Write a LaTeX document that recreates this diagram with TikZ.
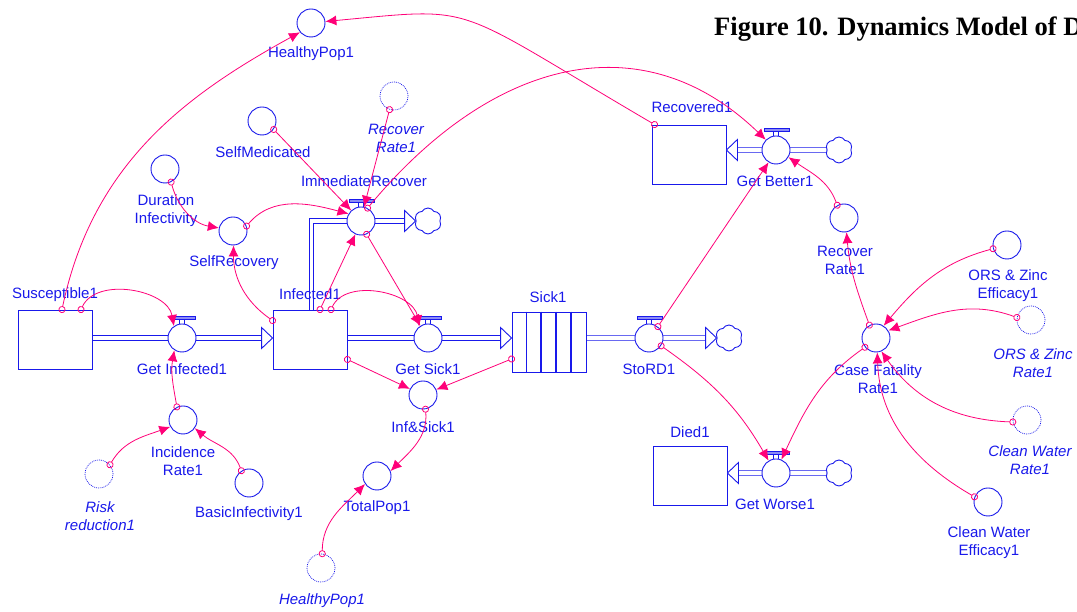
\documentclass[tikz,border=0pt]{standalone}
\usepackage{fontspec}
\setmainfont{Liberation Sans}
\newfontfamily\titlefont{Liberation Serif}
\usetikzlibrary{arrows.meta,shapes.symbols,calc}
\definecolor{sdblue}{RGB}{25,25,235}
\definecolor{sdpink}{RGB}{255,0,120}
\pgfdeclarelayer{bg}
\pgfsetlayers{bg,main}
\tikzset{
 stock/.style={draw=sdblue, line width=0.9pt, minimum width=74pt, minimum height=59pt, inner sep=0pt, fill=white},
 auxv/.style={draw=sdblue, circle, line width=0.9pt, minimum size=28pt, inner sep=0pt, fill=white},
 ghost/.style={auxv, densely dotted, line width=0.7pt},
 cloudn/.style={cloud, cloud puffs=6, cloud puff arc=120, aspect=1, draw=sdblue, line width=0.9pt, minimum width=27pt, minimum height=26pt, inner sep=0pt, fill=white},
 lbl/.style={text=sdblue, font=\fontsize{15}{18}\selectfont, align=center, inner sep=0pt},
 glbl/.style={lbl, font=\fontsize{15}{18}\selectfont\itshape},
 pipeline/.style={draw=sdblue, line width=0.9pt, double=white, double distance=3.6pt},
 pipehead/.style={draw=sdblue, line width=0.9pt, fill=white, line join=miter},
 conn/.style={draw=sdpink, line width=0.8pt, {Circle[open,length=7pt,width=7pt]}-{Latex[length=11pt,width=10pt]}, shorten <=-3.5pt},
}
\newcommand\valvebar[1]{%
 \draw[sdblue, line width=0.6pt] ([xshift=-2.5pt]#1.north) -- ([xshift=-2.5pt,yshift=4pt]#1.north)
   ([xshift=2.5pt]#1.north) -- ([xshift=2.5pt,yshift=4pt]#1.north);
 \draw[sdblue, fill=sdblue!50, line width=0.6pt] ([xshift=-12pt,yshift=4pt]#1.north) rectangle ([xshift=13pt,yshift=7pt]#1.north);}
\begin{document}
\begin{tikzpicture}[x=1pt,y=1pt]
\useasboundingbox (0,0) rectangle (1077,612);
\clip (0,0) rectangle (1077,612);
\begin{pgfonlayer}{bg}
\fill[white] (0,0) rectangle (1077,612);
\end{pgfonlayer}

% stocks
\node[stock] (Sus) at (55,272.5) {};
\node[stock] (Inf) at (310,272.5) {};
\node[stock, minimum height=60pt] (Sick) at (549,270) {};
\node[stock] (Rec) at (689,457.5) {};
\node[stock] (Died) at (690,136.5) {};
\foreach \k in {1,2,3,4}
  \draw[sdblue, line width=1.6pt] ([xshift=\k*14.8pt]Sick.north west) -- ([xshift=\k*14.8pt]Sick.south west);

% valves
\node[auxv] (GI) at (182,274) {};
\node[auxv] (GS) at (428,274) {};
\node[auxv] (SRD) at (649,274) {};
\node[auxv] (IR) at (361,391) {};
\node[auxv] (GB) at (776,462) {};
\node[auxv] (GW) at (776,139) {};
\foreach \v in {GI,GS,SRD,IR,GB,GW} {\valvebar{\v}}

% clouds
\node[cloudn] (cIR) at (428,391) {};
\node[cloudn] (cSRD) at (729,274) {};
\node[cloudn] (cGB) at (839,462) {};
\node[cloudn] (cGW) at (839,139) {};

% pipes
\begin{pgfonlayer}{bg}
\draw[pipeline, shorten >=11pt] (Sus.east |- GI) -- (Inf.west |- GI);
\draw[pipeline, shorten >=11pt] (Inf.east |- GS) -- (Sick.west |- GS);
\draw[pipeline, shorten >=11pt] (Sick.east |- SRD) -- (cSRD.west);
\draw[pipeline, shorten >=11pt] ([xshift=1.5pt]Inf.north) |- (cIR.west);
\draw[pipeline, shorten >=11pt] (cGB.west) -- (Rec.east |- GB);
\draw[pipeline, shorten >=11pt] (cGW.west) -- (Died.east |- GW);
\end{pgfonlayer}
\draw[pipehead] (Inf.west |- GI) -- ++(-11,10.5) -- ++(0,-21) -- cycle;
\draw[pipehead] (Sick.west |- GS) -- ++(-11,10.5) -- ++(0,-21) -- cycle;
\draw[pipehead] (cSRD.west) -- ++(-11,10.5) -- ++(0,-21) -- cycle;
\draw[pipehead] (cIR.west) -- ++(-11,10.5) -- ++(0,-21) -- cycle;
\draw[pipehead] (Rec.east |- GB) -- ++(11,10.5) -- ++(0,-21) -- cycle;
\draw[pipehead] (Died.east |- GW) -- ++(11,10.5) -- ++(0,-21) -- cycle;

% auxiliaries
\node[auxv] (HP) at (311,589) {};
\node[auxv] (SM) at (262,491) {};
\node[ghost] (RRg) at (394,516) {};
\node[auxv] (DI) at (165,443) {};
\node[auxv] (SR) at (233,381) {};
\node[auxv] (IncR) at (183,192) {};
\node[ghost] (Risk) at (99,138) {};
\node[auxv] (BI) at (249,129) {};
\node[auxv] (IS) at (423,217) {};
\node[auxv] (TP) at (377,136) {};
\node[ghost] (HPg) at (321,44) {};
\node[auxv] (RR) at (844,394) {};
\node[auxv] (CFR) at (876,274) {};
\node[auxv] (ORSE) at (1007,367) {};
\node[ghost] (ORSR) at (1031,292) {};
\node[ghost] (CWR) at (1027,192) {};
\node[auxv] (CWE) at (988,110) {};

% labels
\node[lbl] (lSus) at (55,317) {Susceptible1};
\node[lbl] (lInf) at (310,318) {Infected1};
\node[lbl] (lSick) at (548,315) {Sick1};
\node[lbl] (lRec) at (692,505) {Recovered1};
\node[lbl] (lDied) at (690,180) {Died1};
\node[lbl] (lGI) at (182,243) {Get Infected1};
\node[lbl] (lGS) at (428,243) {Get Sick1};
\node[lbl] (lSRD) at (649,243) {StoRD1};
\node[lbl] (lIR) at (364,431) {ImmediateRecover};
\node[lbl] (lGB) at (775,431) {Get Better1};
\node[lbl] (lGW) at (775,108) {Get Worse1};
\node[lbl] (lHP) at (311,558) {HealthyPop1};
\node[lbl] (lSM) at (263,460) {SelfMedicated};
\node[glbl] (lRRg) at (396,473.5) {Recover\\Rate1};
\node[lbl] (lDI) at (166,401) {Duration\\Infectivity};
\node[lbl] (lSR) at (234,349) {SelfRecovery};
\node[lbl] (lIncR) at (183,151) {Incidence\\Rate1};
\node[glbl] (lRisk) at (100,96) {Risk\\reduction1};
\node[lbl] (lBI) at (249,98) {BasicInfectivity1};
\node[lbl] (lIS) at (423,185) {Inf\&Sick1};
\node[lbl] (lTP) at (377,104) {TotalPop1};
\node[glbl] (lHPg) at (322,11) {HealthyPop1};
\node[lbl] (lRR) at (845,352) {Recover\\Rate1};
\node[lbl] (lCFR) at (878,232.5) {Case Fatality\\Rate1};
\node[lbl] (lORSE) at (1008,326) {ORS \& Zinc\\Efficacy1};
\node[glbl] (lORSR) at (1033,249) {ORS \& Zinc\\Rate1};
\node[glbl] (lCWR) at (1030,152) {Clean Water\\Rate1};
\node[lbl] (lCWE) at (989,69) {Clean Water\\Efficacy1};

\node[anchor=base west, font=\titlefont\bfseries\fontsize{26.5}{30}\selectfont, inner sep=0pt] (title) at (714,576) {Figure 10. Dynamics Model of D};

% connectors
\draw[conn] ([xshift=7pt]Sus.north) .. controls (93,449) and (186,517) .. (HP.220);
\draw[conn] ([xshift=26pt]Sus.north) to[out=65,in=100] (GI.124);
\draw[conn] (IncR.115) to[out=100,in=-100] (GI.238);
\draw[conn] (Risk.40) to[out=60,in=200] (IncR.208);
\draw[conn] (BI.122) to[out=110,in=-40] (IncR.325);
\draw[conn] ([yshift=-11pt]Inf.north west) to[out=145,in=-90] (SR.272);
\draw[conn] (DI.295) to[out=-75,in=170] (SR.168);
\draw[conn] (SR.20) to[out=50,in=165] (IR.150);
\draw[conn] (SM.324) -- (IR.133);
\draw[conn] (RRg.252) -- (IR.78);
\draw[conn] ([xshift=10pt]Inf.north) -- (IR.247);
\draw[conn] ([xshift=21pt]Inf.north) to[out=65,in=100] (GS.127);
\draw[conn] (IR.293) -- (GS.122);
\draw[conn] ([yshift=-20pt]Inf.east) -- (IS.155);
\draw[conn] ([yshift=-17pt]Sick.west) -- (IS.22);
\draw[conn] (IS.280) to[out=-85,in=45] (TP.20);
\draw[conn] (HPg.85) to[out=90,in=225] (TP.214);
\draw[conn] (IR.63) .. controls (494,556) and (644,590) .. (GB.135);
\draw[conn] ([xshift=3pt]Rec.north west) .. controls (447,609) and (481,605) .. (HP.6);
\draw[conn] (SRD.52) -- (GB.239);
\draw[conn] (RR.118) to[out=110,in=-35] (GB.330);
\draw[conn] (CFR.117) to[out=110,in=-85] (RR.280);
\draw[conn] (SRD.327) to[out=-35,in=120] (GW.121);
\draw[conn] (CFR.220) to[out=215,in=65] (GW.68);
\draw[conn] (ORSE.195) to[out=195,in=50] (CFR.58);
\draw[conn] (ORSR.170) to[out=160,in=20] (CFR.31);
\draw[conn] (CWR.188) to[out=178,in=-55] (CFR.292);
\draw[conn] (CWE.159) to[out=150,in=-88] (CFR.275);
\end{tikzpicture}
\end{document}
